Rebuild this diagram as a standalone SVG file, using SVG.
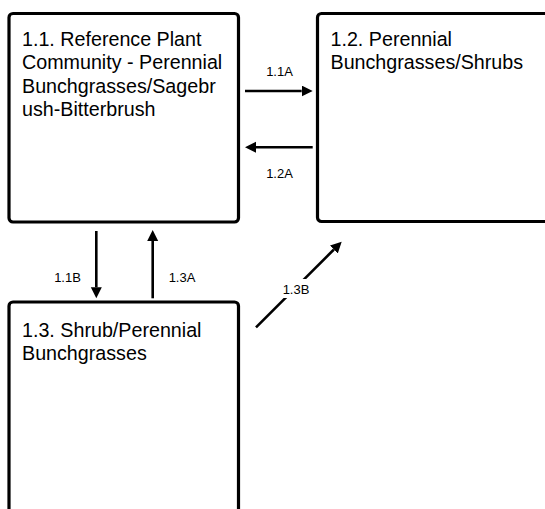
<svg xmlns="http://www.w3.org/2000/svg" width="545" height="509" viewBox="0 0 545 509">
<style>
.box{fill:#fff;stroke:#000;stroke-width:3.2}
.t{font-family:"Liberation Sans",Arial,sans-serif;font-size:19.7px;fill:#000}
.lbl{font-family:"Liberation Sans",Arial,sans-serif;font-size:13px;fill:#000;text-anchor:middle}
.c{stroke:#000;stroke-width:2.6;fill:none;marker-end:url(#ah)}
</style>
<defs>
<marker id="ah" markerUnits="userSpaceOnUse" markerWidth="12" markerHeight="12" refX="0" refY="5.5" orient="auto">
<path d="M0,0 L11,5.5 L0,11 z" fill="#000"/>
</marker>
</defs>
<rect width="545" height="509" fill="#fff"/>
<g id="node-1-1">
<rect class="box" x="9" y="13.5" width="229.5" height="208.5" rx="4"/>
<text class="t" x="22" y="46">1.1. Reference Plant</text>
<text class="t" x="22" y="69.3">Community - Perennial</text>
<text class="t" x="22" y="92.6">Bunchgrasses/Sagebr</text>
<text class="t" x="22" y="115.9">ush-Bitterbrush</text>
</g>
<g id="node-1-2">
<rect class="box" x="317.5" y="13.5" width="240" height="208" rx="4"/>
<text class="t" x="330.5" y="46">1.2. Perennial</text>
<text class="t" x="330.5" y="69.3">Bunchgrasses/Shrubs</text>
</g>
<g id="node-1-3">
<rect class="box" x="9" y="302" width="229.5" height="230" rx="4"/>
<text class="t" x="22" y="336.6">1.3. Shrub/Perennial</text>
<text class="t" x="22" y="360.4">Bunchgrasses</text>
</g>
<g id="connectors">
<line class="c" x1="245" y1="91" x2="301.7" y2="91"/>
<line class="c" x1="312.7" y1="147.3" x2="256" y2="147.3"/>
<line class="c" x1="96.3" y1="231" x2="96.3" y2="287.3"/>
<line class="c" x1="152.7" y1="298.3" x2="152.7" y2="241"/>
<line class="c" x1="256" y1="327.3" x2="333.9" y2="249.5"/>
<rect x="283" y="279" width="27" height="19" fill="#fff"/>
<text class="lbl" x="279.5" y="76">1.1A</text>
<text class="lbl" x="279.5" y="178">1.2A</text>
<text class="lbl" x="67.5" y="282">1.1B</text>
<text class="lbl" x="182" y="282">1.3A</text>
<text class="lbl" x="296" y="294">1.3B</text>
</g>
</svg>
